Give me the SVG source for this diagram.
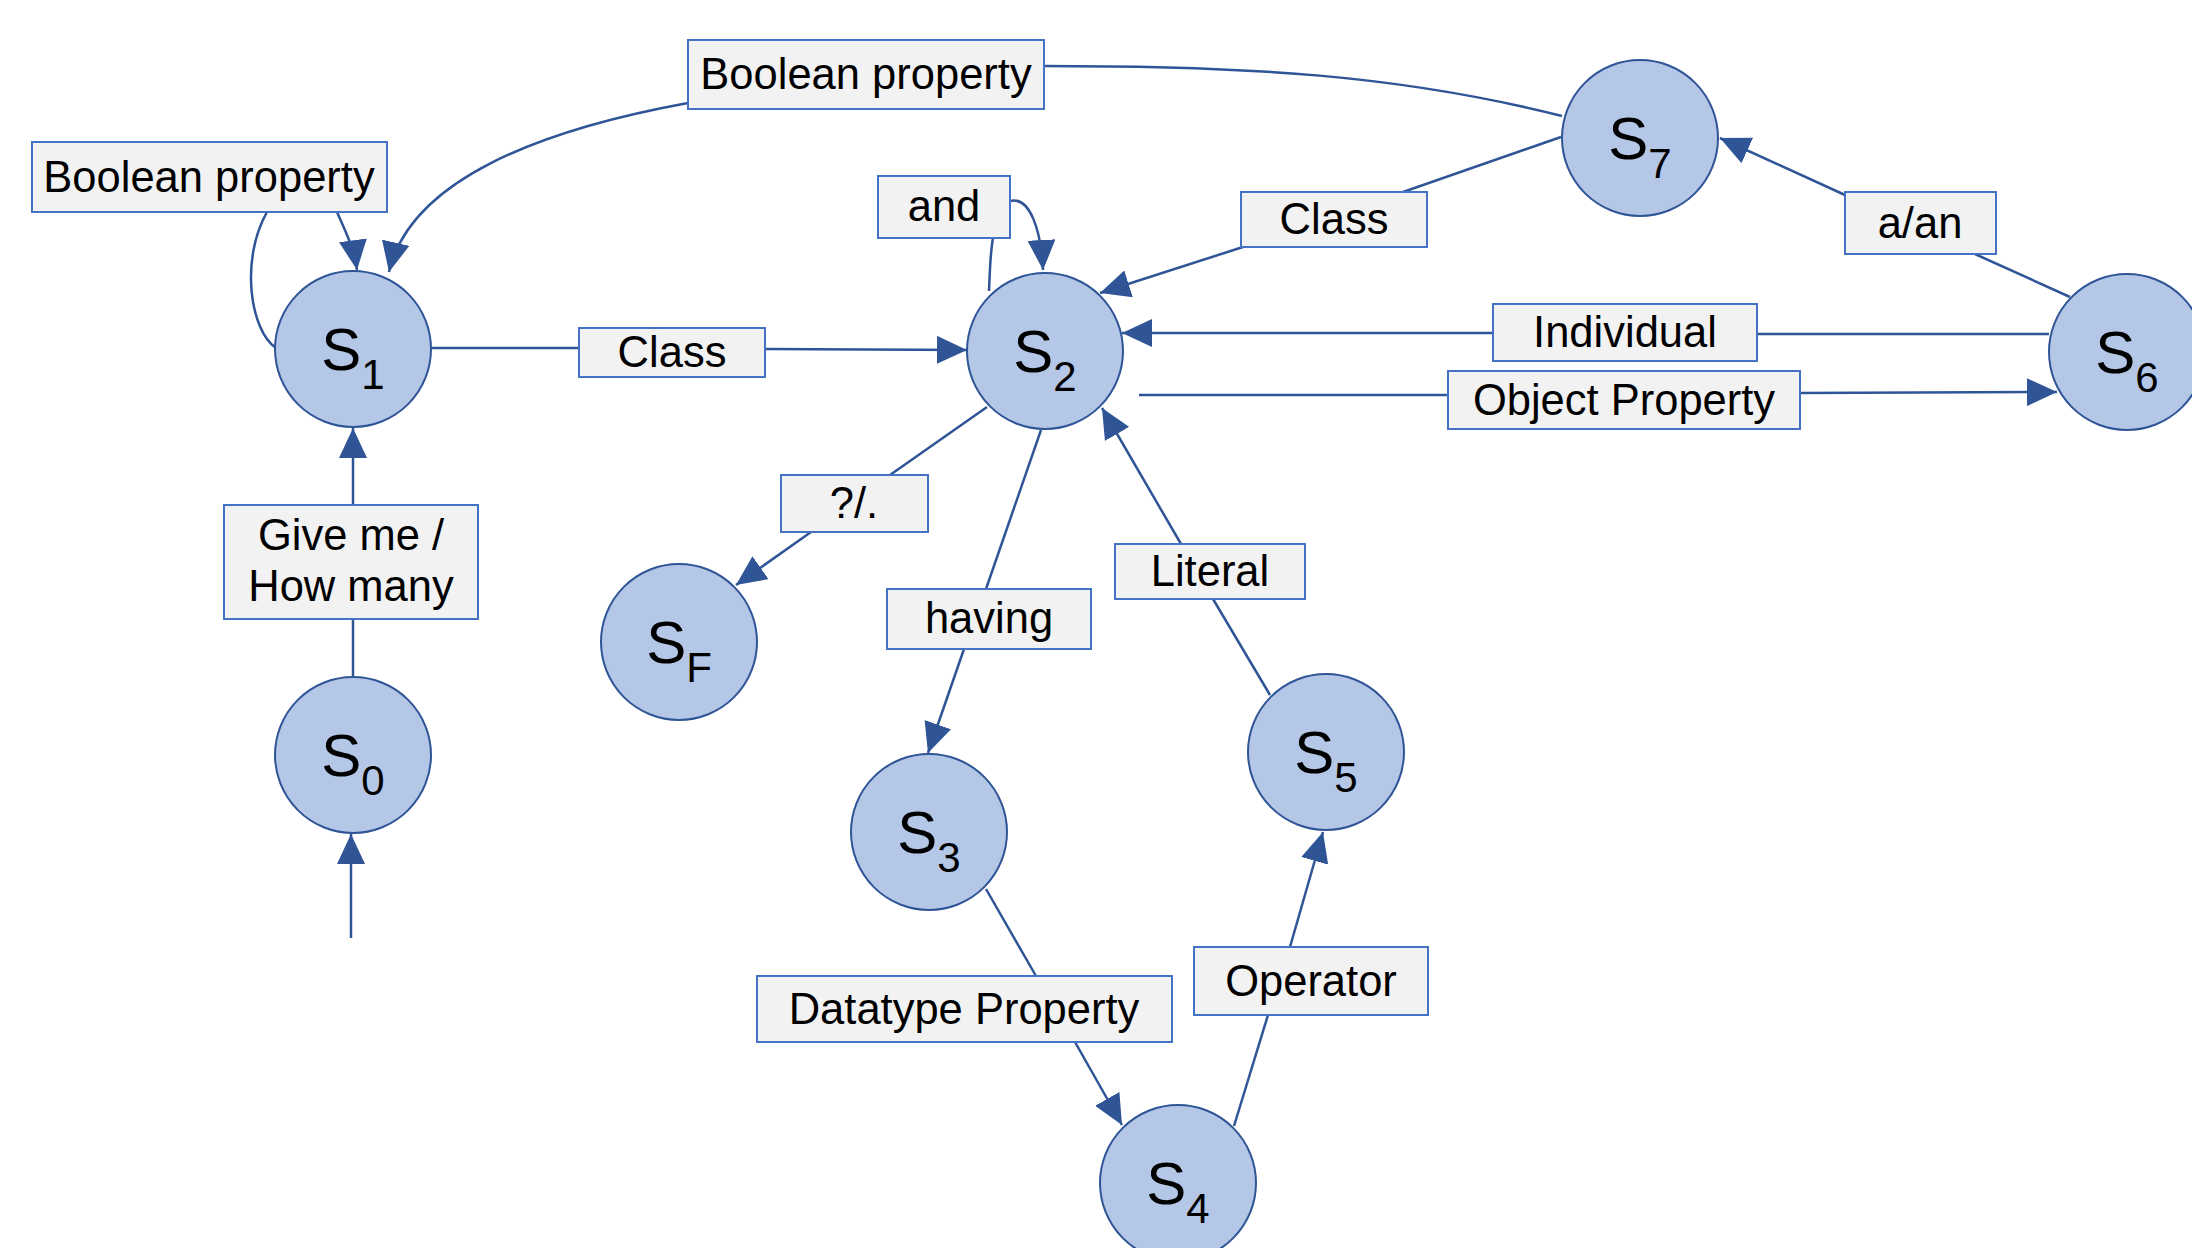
<svg xmlns="http://www.w3.org/2000/svg" width="2192" height="1248" viewBox="0 0 2192 1248">
<defs>
<style>
.node{fill:#B4C7E7;stroke:#2F5597;stroke-width:2}
.nt{font-family:"Liberation Sans",Arial,sans-serif;font-size:60px;fill:#000}
.sub{font-size:42px}
.lbl{fill:#F2F2F2;stroke:#4472C4;stroke-width:2}
.lt{font-family:"Liberation Sans",Arial,sans-serif;font-size:43.5px;fill:#000;text-anchor:middle}
.e{fill:none;stroke:#2F5597;stroke-width:2.5}
.a{marker-end:url(#arr)}
</style>
<marker id="arr" markerUnits="userSpaceOnUse" markerWidth="30" markerHeight="28" refX="30" refY="14" orient="auto">
<path d="M0,0 L30,14 L0,28 z" fill="#2F5597"/>
</marker>
</defs>
<rect width="2192" height="1248" fill="#fff"/>
<g id="connectors">
<line class="e a" x1="351" y1="938" x2="351" y2="834"/>
<line class="e" x1="353" y1="676" x2="353" y2="619"/>
<line class="e a" x1="353" y1="505" x2="353" y2="428"/>
<path class="e" d="M276,348 C250,330 240,260 267,212"/>
<path class="e a" d="M337,212 C345,230 354,248 357,270"/>
<line class="e" x1="431" y1="348" x2="579" y2="348"/>
<line class="e a" x1="765" y1="349" x2="967" y2="350"/>
<path class="e" d="M1562,116 C1400,75 1250,66 1044,66"/>
<path class="e a" d="M688,103 C540,130 410,180 389,272"/>
<path class="e" d="M989,291 C990,270 990,255 993,238"/>
<path class="e a" d="M1010,201 C1030,196 1041,230 1043,270"/>
<line class="e" x1="1561" y1="137" x2="1403" y2="192"/>
<line class="e a" x1="1243" y1="247" x2="1100" y2="293"/>
<line class="e" x1="2070" y1="297" x2="1975" y2="254"/>
<line class="e a" x1="1845" y1="195" x2="1720" y2="138"/>
<line class="e" x1="2049" y1="334" x2="1757" y2="334"/>
<line class="e a" x1="1493" y1="333" x2="1122" y2="333"/>
<line class="e" x1="1139" y1="395" x2="1448" y2="395"/>
<line class="e a" x1="1800" y1="393" x2="2057" y2="392"/>
<line class="e" x1="987" y1="407" x2="890" y2="475"/>
<line class="e a" x1="811" y1="532" x2="736" y2="585"/>
<line class="e" x1="1041" y1="430" x2="986" y2="589"/>
<line class="e a" x1="964" y1="649" x2="928" y2="753"/>
<line class="e" x1="986" y1="889" x2="1036" y2="976"/>
<line class="e a" x1="1075" y1="1042" x2="1122" y2="1125"/>
<line class="e" x1="1234" y1="1126" x2="1268" y2="1015"/>
<line class="e a" x1="1290" y1="947" x2="1323" y2="832"/>
<line class="e" x1="1270" y1="695" x2="1213" y2="599"/>
<line class="e a" x1="1181" y1="544" x2="1102" y2="408"/>
</g>
<g id="labels">
<g id="lbl-giveme"><rect class="lbl" x="224" y="505" width="254" height="114"/><text class="lt" x="351" y="550">Give me /</text><text class="lt" x="351" y="601">How many</text></g>
<g id="lbl-bool-loop"><rect class="lbl" x="32" y="142" width="355" height="70"/><text class="lt" x="209" y="192">Boolean property</text></g>
<g id="lbl-class1"><rect class="lbl" x="579" y="328" width="186" height="49"/><text class="lt" x="672" y="367">Class</text></g>
<g id="lbl-bool-top"><rect class="lbl" x="688" y="40" width="356" height="69"/><text class="lt" x="866" y="89">Boolean property</text></g>
<g id="lbl-and"><rect class="lbl" x="878" y="176" width="132" height="62"/><text class="lt" x="944" y="221">and</text></g>
<g id="lbl-class2"><rect class="lbl" x="1241" y="192" width="186" height="55"/><text class="lt" x="1334" y="234">Class</text></g>
<g id="lbl-aan"><rect class="lbl" x="1845" y="192" width="151" height="62"/><text class="lt" x="1920" y="238">a/an</text></g>
<g id="lbl-individual"><rect class="lbl" x="1493" y="304" width="264" height="57"/><text class="lt" x="1625" y="347">Individual</text></g>
<g id="lbl-objprop"><rect class="lbl" x="1448" y="371" width="352" height="58"/><text class="lt" x="1624" y="415">Object Property</text></g>
<g id="lbl-qdot"><rect class="lbl" x="781" y="475" width="147" height="57"/><text class="lt" x="854" y="518">?/.</text></g>
<g id="lbl-having"><rect class="lbl" x="887" y="589" width="204" height="60"/><text class="lt" x="989" y="633">having</text></g>
<g id="lbl-literal"><rect class="lbl" x="1115" y="544" width="190" height="55"/><text class="lt" x="1210" y="586">Literal</text></g>
<g id="lbl-datatype"><rect class="lbl" x="757" y="976" width="415" height="66"/><text class="lt" x="964" y="1024">Datatype Property</text></g>
<g id="lbl-operator"><rect class="lbl" x="1194" y="947" width="234" height="68"/><text class="lt" x="1311" y="996">Operator</text></g>
</g>
<g id="S0"><circle class="node" cx="353" cy="755" r="78"/><text class="nt" x="353" y="776" text-anchor="middle">S<tspan class="sub" dy="19">0</tspan></text></g>
<g id="S1"><circle class="node" cx="353" cy="349" r="78"/><text class="nt" x="353" y="370" text-anchor="middle">S<tspan class="sub" dy="19">1</tspan></text></g>
<g id="S2"><circle class="node" cx="1045" cy="351" r="78"/><text class="nt" x="1045" y="372" text-anchor="middle">S<tspan class="sub" dy="19">2</tspan></text></g>
<g id="S7"><circle class="node" cx="1640" cy="138" r="78"/><text class="nt" x="1640" y="159" text-anchor="middle">S<tspan class="sub" dy="19">7</tspan></text></g>
<g id="S6"><circle class="node" cx="2127" cy="352" r="78"/><text class="nt" x="2127" y="373" text-anchor="middle">S<tspan class="sub" dy="19">6</tspan></text></g>
<g id="SF"><circle class="node" cx="679" cy="642" r="78"/><text class="nt" x="679" y="663" text-anchor="middle">S<tspan class="sub" dy="19">F</tspan></text></g>
<g id="S3"><circle class="node" cx="929" cy="832" r="78"/><text class="nt" x="929" y="853" text-anchor="middle">S<tspan class="sub" dy="19">3</tspan></text></g>
<g id="S5"><circle class="node" cx="1326" cy="752" r="78"/><text class="nt" x="1326" y="773" text-anchor="middle">S<tspan class="sub" dy="19">5</tspan></text></g>
<g id="S4"><circle class="node" cx="1178" cy="1183" r="78"/><text class="nt" x="1178" y="1204" text-anchor="middle">S<tspan class="sub" dy="19">4</tspan></text></g>
</svg>
